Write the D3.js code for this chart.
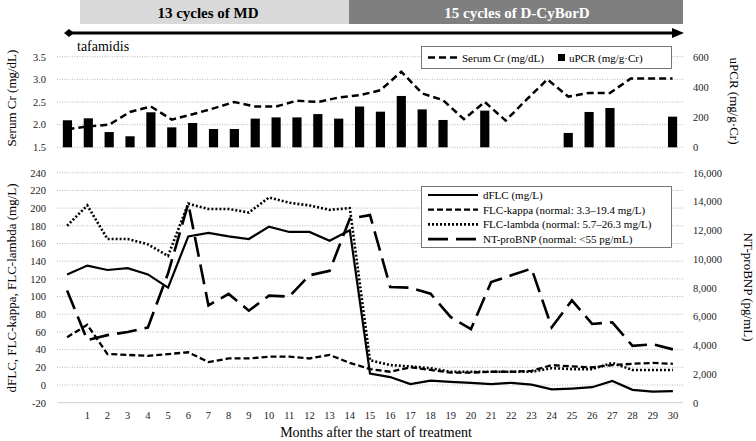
<!DOCTYPE html>
<html>
<head>
<meta charset="utf-8">
<script src="https://cdn.jsdelivr.net/npm/d3@7/dist/d3.min.js"></script>
<style>
  body { margin: 0; background: #fff; }
  svg { display: block; }
</style>
</head>
<body>
<div id="chart"></div>
<script>
// ---- data ----
// top panel has 30 slots
const topSlots = d3.range(30);
const serumCr = [1.90, 1.96, 2.00, 2.28, 2.40, 2.11, 2.23, 2.36, 2.50, 2.40, 2.40, 2.53, 2.50, 2.60, 2.65,
  2.76, 3.17, 2.69, 2.54, 2.12, 2.50, 2.09, 2.55, 3.00, 2.62, 2.70, 2.70, 3.02, 3.02, 3.02];
const uPCR = [179, 192, 101, 73, 232, 132, 161, 121, 121, 190, 198, 198, 220, 190, 270,
  236, 340, 251, 181, null, 243, null, null, null, 95, 234, 260, null, null, 203];

// bottom panel: month 0..30
const months = d3.range(31);
const monthLabels = months.map(m => m === 0 ? "" : String(m));
const dFLC = [125, 135, 130, 132, 125, 110, 168, 172, 168, 165, 179, 173, 173, 163, 175,
  13, 9, 1, 5, 3.5, 2.5, 1, 2.5, 0.5, -5, -4, -2.5, 4.5, -5.5, -7.5, -7];
const flcKappa = [54, 68, 35, 34, 33, 35, 37, 26, 30, 30, 32, 32, 30, 34, 25,
  18, 15, 20, 17, 14, 14, 15, 15, 16, 22.5, 21, 20, 22.5, 24, 25, 24];
const flcLambda = [180, 203, 165, 165, 159, 146, 205, 199, 199, 195, 212, 206, 203, 198, 200,
  28, 22.5, 21, 19, 15, 15, 15, 15, 15, 19, 18, 18, 25, 17, 17, 17];
const ntProBNP = [7800, 4350, 4700, 4920, 5230, 9000, 13850, 6770, 7570, 6400, 7450, 7380, 8860, 9170, 12800,
  13050, 8050, 8000, 7580, 5950, 5120, 8400, 8860, 9330, 5240, 7120, 5480, 5590, 3950, 4070, 3710];

const crTicks = [1.5, 2.0, 2.5, 3.0, 3.5];
const upcrTicks = [0, 200, 400, 600];
const flcTicks = d3.range(-20, 241, 20);
const bnpTicks = d3.range(0, 16001, 2000);

const phases = [
  { label: "13 cycles of MD", fill: "#d9d9d9", color: "#000" },
  { label: "15 cycles of D-CyBorD", fill: "#7f7f7f", color: "#fff" }
];

// ---- layout ----
const W = 756, H = 441;
const plotL = 57, plotR = 683;
const font = "'Liberation Serif', 'Times New Roman', serif";

const svg = d3.select("#chart").append("svg")
  .attr("width", W).attr("height", H)
  .attr("font-family", font);

// ---- banner and arrow ----
const banner = svg.append("g");
const phaseX = [80, 349, 683];
const phaseTextX = [208, 517];
phases.forEach((p, i) => {
  banner.append("rect")
    .attr("x", phaseX[i]).attr("y", 0)
    .attr("width", phaseX[i + 1] - phaseX[i]).attr("height", 24)
    .attr("fill", p.fill);
  banner.append("text")
    .attr("x", phaseTextX[i]).attr("y", 17.5)
    .attr("text-anchor", "middle")
    .attr("font-size", 15).attr("font-weight", "bold")
    .attr("fill", p.color)
    .text(p.label);
});

const arrowY = 33;
banner.append("line")
  .attr("x1", 68).attr("x2", 676).attr("y1", arrowY).attr("y2", arrowY)
  .attr("stroke", "#000").attr("stroke-width", 3);
banner.append("path")
  .attr("d", `M64,${arrowY} L69,${arrowY - 4} L74,${arrowY} L69,${arrowY + 4} Z`)
  .attr("fill", "#000");
banner.append("path")
  .attr("d", `M684,${arrowY} L672,${arrowY - 5} L672,${arrowY + 5} Z`)
  .attr("fill", "#000");
banner.append("text")
  .attr("x", 77).attr("y", 51)
  .attr("font-size", 14)
  .text("tafamidis");

// ---- shared helpers ----
function gridlines(g, scale, ticks, solidBottom) {
  g.selectAll("line.grid")
    .data(ticks)
    .join("line")
    .attr("class", "grid")
    .attr("x1", plotL).attr("x2", plotR)
    .attr("y1", d => scale(d)).attr("y2", d => scale(d))
    .attr("stroke", (d, i) => solidBottom && i === 0 ? "#d9d9d9" : "#a6a6a6")
    .attr("stroke-width", (d, i) => solidBottom && i === 0 ? 1.2 : 0.8)
    .attr("stroke-dasharray", (d, i) => solidBottom && i === 0 ? null : "1,1.5");
}

function tickLabels(g, scale, ticks, x, anchor, fmt) {
  g.selectAll(null)
    .data(ticks)
    .join("text")
    .attr("x", x)
    .attr("y", d => scale(d) + 3.8)
    .attr("text-anchor", anchor)
    .attr("font-size", 10.5)
    .attr("fill", "#222")
    .text(fmt);
}

function vTitle(text, x, y, rot) {
  svg.append("text")
    .attr("transform", `translate(${x},${y}) rotate(${rot})`)
    .attr("text-anchor", "middle")
    .attr("font-size", 13)
    .text(text);
}

// ---- top panel ----
const xTop = d3.scaleBand().domain(topSlots).range([plotL, plotR]);
const yCr = d3.scaleLinear().domain([1.5, 3.5]).range([147.3, 56.7]);
const yUpcr = d3.scaleLinear().domain([0, 600]).range([147.3, 56.7]);

const topG = svg.append("g");
gridlines(topG, yCr, crTicks, false);
tickLabels(topG, yCr, crTicks, 46, "end", d3.format(".1f"));
tickLabels(topG, yUpcr, upcrTicks, 693, "start", d => d);

const barW = xTop.bandwidth() * 0.44;
topG.selectAll("rect.bar")
  .data(topSlots.filter(i => uPCR[i] != null))
  .join("rect")
  .attr("class", "bar")
  .attr("x", i => xTop(i) + xTop.bandwidth() / 2 - barW / 2)
  .attr("width", barW)
  .attr("y", i => yUpcr(uPCR[i]))
  .attr("height", i => yUpcr(0) - yUpcr(uPCR[i]))
  .attr("fill", "#000");

const crLine = d3.line()
  .x(i => xTop(i) + xTop.bandwidth() / 2)
  .y(i => yCr(serumCr[i]));
topG.append("path")
  .datum(topSlots)
  .attr("d", crLine)
  .attr("fill", "none")
  .attr("stroke", "#000")
  .attr("stroke-width", 2.5)
  .attr("stroke-dasharray", "7,4");

// top legend
const lg1 = svg.append("g");
lg1.append("rect")
  .attr("x", 421.5).attr("y", 46.5).attr("width", 250).attr("height", 22)
  .attr("fill", "#fff").attr("stroke", "#555").attr("stroke-width", 0.8);
lg1.append("line")
  .attr("x1", 428).attr("x2", 457).attr("y1", 57.5).attr("y2", 57.5)
  .attr("stroke", "#000").attr("stroke-width", 2.5).attr("stroke-dasharray", "7,4");
lg1.append("text").attr("x", 462).attr("y", 61.5).attr("font-size", 11).text("Serum Cr (mg/dL)");
lg1.append("rect").attr("x", 558).attr("y", 54).attr("width", 7).attr("height", 7).attr("fill", "#000");
lg1.append("text").attr("x", 569).attr("y", 61.5).attr("font-size", 11).text("uPCR (mg/g\u00b7Cr)");

vTitle("Serum Cr (mg/dL)", 16, 98, -90);
vTitle("uPCR (mg/g\u00b7Cr)", 730, 101, 90);

// ---- bottom panel ----
const xBot = d3.scaleBand().domain(months).range([plotL, plotR]);
const yFlc = d3.scaleLinear().domain([-20, 240]).range([402.7, 172.7]);
const yBnp = d3.scaleLinear().domain([0, 16000]).range([402.7, 172.7]);

const botG = svg.append("g");
gridlines(botG, yFlc, flcTicks, true);
tickLabels(botG, yFlc, flcTicks, 46, "end", d => d);
tickLabels(botG, yBnp, bnpTicks, 693, "start", d3.format(","));

botG.selectAll("text.xlab")
  .data(months)
  .join("text")
  .attr("class", "xlab")
  .attr("x", m => xBot(m) + xBot.bandwidth() / 2)
  .attr("y", 419)
  .attr("text-anchor", "middle")
  .attr("font-size", 10.5)
  .attr("fill", "#222")
  .text(m => monthLabels[m]);

const cx = m => xBot(m) + xBot.bandwidth() / 2;
const series = [
  { values: ntProBNP, y: yBnp, dash: "20,8", width: 2.6, label: "NT-proBNP (normal: <55 pg/mL)" },
  { values: flcKappa, y: yFlc, dash: "6,3", width: 2.3, label: "FLC-kappa (normal: 3.3\u201319.4 mg/L)" },
  { values: flcLambda, y: yFlc, dash: "2,2", width: 2.6, label: "FLC-lambda (normal: 5.7\u201326.3 mg/L)" },
  { values: dFLC, y: yFlc, dash: null, width: 2.2, label: "dFLC (mg/L)" }
];

series.forEach(s => {
  botG.append("path")
    .datum(months)
    .attr("d", d3.line().x(cx).y(m => s.y(s.values[m])))
    .attr("fill", "none")
    .attr("stroke", "#000")
    .attr("stroke-width", s.width)
    .attr("stroke-dasharray", s.dash);
});

// bottom legend
const lg2 = svg.append("g");
lg2.append("rect")
  .attr("x", 421.5).attr("y", 186.5).attr("width", 250).attr("height", 61)
  .attr("fill", "#fff").attr("stroke", "#555").attr("stroke-width", 0.8);
const legendOrder = [series[3], series[1], series[2], series[0]];
legendOrder.forEach((s, i) => {
  const ly = 195 + i * 14.7;
  lg2.append("line")
    .attr("x1", 428).attr("x2", 478).attr("y1", ly).attr("y2", ly)
    .attr("stroke", "#000").attr("stroke-width", s.width)
    .attr("stroke-dasharray", s.dash);
  lg2.append("text")
    .attr("x", 483).attr("y", ly + 4)
    .attr("font-size", 11)
    .text(s.label);
});

vTitle("dFLC, FLC-kappa, FLC-lambda (mg/L)", 16, 288, -90);
vTitle("NT-proBNP (pg/mL)", 744, 287, 90);

svg.append("text")
  .attr("x", 376).attr("y", 437)
  .attr("text-anchor", "middle")
  .attr("font-size", 14)
  .text("Months after the start of treatment");
</script>
</body>
</html>
